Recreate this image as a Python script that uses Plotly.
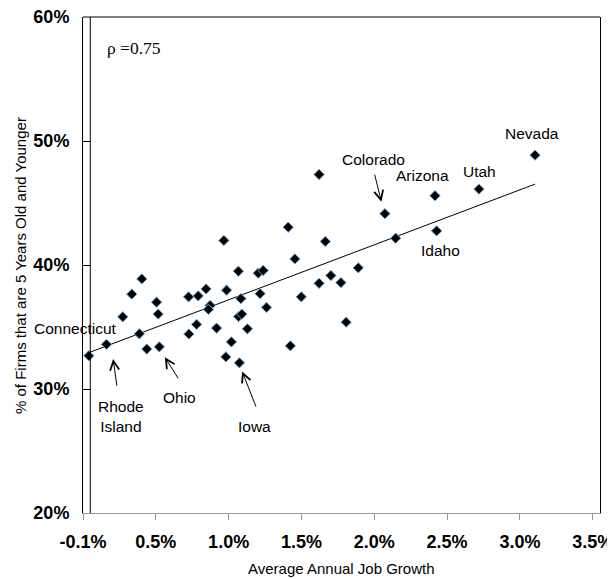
import numpy as np
import plotly.graph_objects as go

# Average annual job growth (%) and share of firms 5 years old and younger (%)
growth = [-0.010, 0.111, 0.223, 0.285, 0.354, 0.337, 0.388, 0.455, 0.466, 0.474,
          0.675, 0.741, 0.795, 0.936, 0.823, 0.811, 0.677, 0.730, 0.867, 1.034,
          1.018, 1.041, 1.079, 0.969, 0.931, 1.024, 1.166, 1.210, 1.374, 1.449,
          0.917, 1.017, 1.153, 1.187, 1.359, 1.405, 1.571, 1.614, 2.023, 2.097,
          1.840, 1.652, 1.571, 1.721, 1.757, 2.367, 2.669, 3.054, 2.378]
young_share = [32.68, 33.60, 35.82, 37.65, 38.88, 34.45, 33.22, 37.00, 36.04, 33.40,
               37.43, 37.51, 38.07, 37.97, 36.74, 36.42, 34.43, 35.21, 34.91, 37.29,
               35.84, 36.04, 34.85, 33.80, 32.59, 32.11, 37.69, 36.58, 33.48, 37.43,
               41.98, 39.50, 39.34, 39.56, 43.05, 40.49, 47.30, 41.90, 44.14, 42.16,
               39.77, 39.15, 38.52, 38.58, 35.39, 45.59, 46.12, 48.86, 42.75]

x_tickvals = [-0.05, 0.45, 0.95, 1.45, 1.95, 2.45, 2.95, 3.45]
x_ticktext = ["-0.1%", "0.5%", "1.0%", "1.5%", "2.0%", "2.5%", "3.0%", "3.5%"]
y_tickvals = [20, 30, 40, 50, 60]
y_ticktext = ["20%", "30%", "40%", "50%", "60%"]

# state labels: (text, x_paper, y_paper)
state_labels = [
    ("Connecticut", -0.014, 0.371),
    ("Rhode<br>Island", 0.073, 0.195),
    ("Ohio", 0.187, 0.2325),
    ("Iowa", 0.332, 0.174),
    ("Colorado", 0.5617, 0.7123),
    ("Arizona", 0.6574, 0.6807),
    ("Utah", 0.7668, 0.6887),
    ("Nevada", 0.8684, 0.7647),
    ("Idaho", 0.6923, 0.5294),
]
# arrows: (tail_x, tail_y, tip_x, tip_y) in data units
arrows = [
    (1.9505, 47.40, 1.9986, 45.11),   # Colorado
    (0.1841, 30.15, 0.1566, 32.41),   # Rhode Island
    (0.6100, 30.74, 0.5118, 32.57),   # Ohio
    (1.1418, 28.46, 1.0429, 31.41),   # Iowa
]

gx = np.array(growth)
gy = np.array(young_share)
slope, intercept = np.polyfit(gx, gy, 1)
fit_x = np.array([gx.min(), gx.max()])
fit_y = slope * fit_x + intercept

fig = go.Figure()
fig.add_trace(go.Scatter(x=fit_x, y=fit_y, mode="lines",
                         line=dict(color="black", width=1), hoverinfo="skip"))
fig.add_trace(go.Scatter(x=growth, y=young_share, mode="markers",
                         marker=dict(symbol="diamond", size=8, color="black",
                                     line=dict(color="#6FA8DC", width=1))))

annotations = []
for txt, xp, yp in state_labels:
    annotations.append(dict(text=txt, x=xp, y=yp, xref="paper", yref="paper",
                            showarrow=False, xanchor="center", yanchor="middle",
                            font=dict(family="Liberation Sans", size=15.5, color="black")))
for tx, ty, hx, hy in arrows:
    annotations.append(dict(text="", x=hx, y=hy, ax=tx, ay=ty, xref="x", yref="y",
                            axref="x", ayref="y", showarrow=True, arrowhead=5,
                            arrowsize=1.8, arrowwidth=1, arrowcolor="black"))
annotations.append(dict(text="ρ =0.75", x=0.0981, y=0.9381, xref="paper", yref="paper",
                        showarrow=False, xanchor="center", yanchor="middle",
                        font=dict(family="Liberation Serif", size=17.5, color="black")))
annotations.append(dict(text="% of Firms that are 5 Years Old and Younger", x=-0.1219, y=0.5,
                        xref="paper", yref="paper", showarrow=False, textangle=-90,
                        xanchor="center", yanchor="middle",
                        font=dict(family="Liberation Sans", size=15, color="black")))
annotations.append(dict(text="Average Annual Job Growth", x=0.5, y=-0.111,
                        xref="paper", yref="paper", showarrow=False,
                        xanchor="center", yanchor="middle",
                        font=dict(family="Liberation Sans", size=15, color="black")))

shapes = [
    dict(type="line", xref="x", yref="paper", x0=0, x1=0, y0=0, y1=1,
         line=dict(color="black", width=1)),
    dict(type="line", xref="paper", yref="paper", x0=0, x1=1, y0=1, y1=1,
         line=dict(color="black", width=1)),
]

# page has an 8px body margin, so the figure is sized/offset to compensate
fig.update_layout(
    width=607, height=571,
    margin=dict(l=75, r=15, t=9, b=66, autoexpand=False),
    paper_bgcolor="white", plot_bgcolor="white",
    showlegend=False,
    annotations=annotations,
    shapes=shapes,
    xaxis=dict(range=[-0.05, 3.5], tickvals=x_tickvals, ticktext=x_ticktext,
               showgrid=False, zeroline=False, showline=True, linecolor="#999999",
               linewidth=1, ticks="outside", ticklen=6, tickcolor="#999999",
               automargin=False, ticklabeloverflow="allow",
               tickfont=dict(family="Liberation Sans", size=18, color="black", weight="bold"),
               ticklabelstandoff=6),
    yaxis=dict(range=[20, 60], tickvals=y_tickvals, ticktext=y_ticktext,
               showgrid=False, zeroline=False, showline=True, linecolor="black",
               linewidth=1, mirror=True, ticks="inside", ticklen=8, tickcolor="black",
               automargin=False, ticklabeloverflow="allow",
               tickfont=dict(family="Liberation Sans", size=18, color="black", weight="bold"),
               ticklabelstandoff=9),
)

fig.write_html("out.html")
